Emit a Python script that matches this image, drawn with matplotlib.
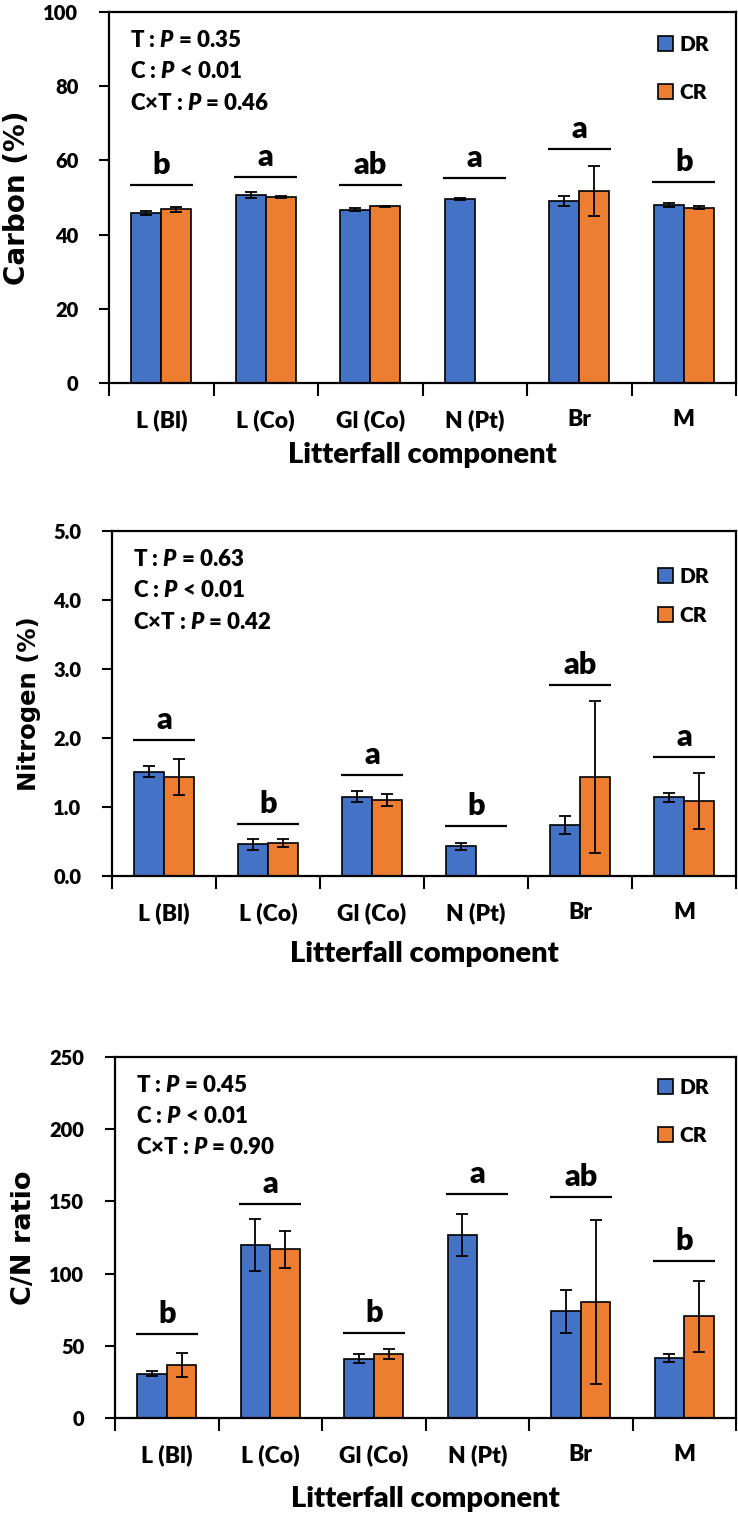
import matplotlib
matplotlib.use("Agg")
import matplotlib.pyplot as plt
import numpy as np

categories = ["L (Bl)", "L (Co)", "Gl (Co)", "N (Pt)", "Br", "M"]
series = ["DR", "CR"]

carbon_dr = [45.8, 50.6, 46.7, 49.7, 49.1, 48.0]
carbon_dr_err = [0.5, 0.8, 0.4, 0.3, 1.4, 0.6]
carbon_cr = [46.8, 50.1, 47.6, 0.0, 51.8, 47.3]
carbon_cr_err = [0.6, 0.3, 0.2, 0.0, 6.7, 0.5]
carbon_letters = ["b", "a", "ab", "a", "a", "b"]
carbon_letter_y = [53.4, 55.4, 53.3, 55.3, 63.2, 54.2]
carbon_stats = ["= 0.35", "< 0.01", "= 0.46"]

nitrogen_dr = [1.51, 0.46, 1.15, 0.43, 0.745, 1.14]
nitrogen_dr_err = [0.08, 0.08, 0.08, 0.05, 0.13, 0.07]
nitrogen_cr = [1.44, 0.48, 1.10, 0.0, 1.43, 1.09]
nitrogen_cr_err = [0.26, 0.06, 0.09, 0.0, 1.10, 0.41]
nitrogen_letters = ["a", "b", "a", "b", "ab", "a"]
nitrogen_letter_y = [1.97, 0.754, 1.46, 0.73, 2.77, 1.72]
nitrogen_stats = ["= 0.63", "< 0.01", "= 0.42"]

cn_dr = [30.8, 119.9, 41.0, 126.5, 74.0, 41.7]
cn_dr_err = [1.6, 18.0, 3.2, 14.5, 14.8, 2.9]
cn_cr = [36.9, 116.7, 44.2, 0.0, 80.3, 70.6]
cn_cr_err = [8.3, 12.5, 3.5, 0.0, 57.0, 24.6]
cn_letters = ["b", "a", "b", "a", "ab", "b"]
cn_letter_y = [58.3, 148.5, 59.2, 155.1, 153.2, 109.0]
cn_stats = ["= 0.45", "< 0.01", "= 0.90"]

FONT = "Lato"
W = "heavy"
plt.rcParams["font.family"] = [FONT, "DejaVu Sans"]
plt.rcParams["font.weight"] = W
plt.rcParams["mathtext.fontset"] = "custom"
plt.rcParams["mathtext.it"] = FONT + ":italic:heavy"
plt.rcParams["mathtext.rm"] = FONT + ":heavy"

BLUE = "#4472C4"
ORANGE = "#ED7D31"

FW, FH = 738, 1525
fig = plt.figure(figsize=(FW/100, FH/100), dpi=100)


def box(l, t, r, b):
    return [l/FW, 1 - b/FH, (r - l)/FW, (b - t)/FH]


panels = [
    dict(pos=box(109, 12, 736, 383), dr=carbon_dr, dre=carbon_dr_err,
         cr=carbon_cr, cre=carbon_cr_err, letters=carbon_letters, ly=carbon_letter_y,
         stats=carbon_stats, ylim=(0, 100), yticks=np.arange(0, 101, 20), fmt="{:.0f}",
         ylabel="Carbon (%)", ylsize=20, legsp=1.4, legtop=23, xlpad=8),
    dict(pos=box(112, 531, 736, 876), dr=nitrogen_dr, dre=nitrogen_dr_err,
         cr=nitrogen_cr, cre=nitrogen_cr_err, letters=nitrogen_letters, ly=nitrogen_letter_y,
         stats=nitrogen_stats, ylim=(0, 5), yticks=np.arange(0, 5.01, 1.0), fmt="{:.1f}",
         ylabel="Nitrogen (%)", ylsize=17.5, legsp=0.95, legtop=36, xlpad=12),
    dict(pos=box(115, 1057, 736, 1418), dr=cn_dr, dre=cn_dr_err,
         cr=cn_cr, cre=cn_cr_err, letters=cn_letters, ly=cn_letter_y,
         stats=cn_stats, ylim=(0, 250), yticks=np.arange(0, 251, 50), fmt="{:.0f}",
         ylabel="C/N ratio", ylsize=19.5, legsp=1.4, legtop=21, xlpad=14),
]

x = np.arange(len(categories))
bw = 0.286

for p in panels:
    ax = fig.add_axes(p["pos"])
    hpx = p["pos"][3] * FH
    ax.bar(x - bw/2, p["dr"], bw, color=BLUE, edgecolor="black", linewidth=1.2,
           label=series[0], zorder=2)
    ax.bar(x + bw/2, p["cr"], bw, color=ORANGE, edgecolor="black", linewidth=1.2,
           label=series[1], zorder=2)
    dre = np.array(p["dre"]); cre = np.array(p["cre"])
    m_dr = dre > 0; m_cr = cre > 0
    ax.errorbar((x - bw/2)[m_dr], np.array(p["dr"])[m_dr], yerr=dre[m_dr], fmt="none",
                ecolor="black", elinewidth=1.3, capsize=4, capthick=1.3, zorder=3)
    ax.errorbar((x + bw/2)[m_cr], np.array(p["cr"])[m_cr], yerr=cre[m_cr], fmt="none",
                ecolor="black", elinewidth=1.3, capsize=4, capthick=1.3, zorder=3)
    ymax = p["ylim"][1]
    for xi, lt, yl in zip(x, p["letters"], p["ly"]):
        ax.plot([xi - 0.3, xi + 0.3], [yl, yl], color="black", lw=1.6, solid_capstyle="butt")
        ax.text(xi, yl + ymax*6/hpx, lt, ha="center", va="bottom", fontsize=22,
                fontweight=W)
    ax.set_xlim(-0.5, len(categories) - 0.5)
    ax.set_ylim(*p["ylim"])
    ax.set_yticks(p["yticks"])
    ax.set_yticklabels([p["fmt"].format(v) for v in p["yticks"]], fontsize=14.5,
                       fontweight=W)
    ax.set_xticks(x)
    ax.set_xticklabels(categories, fontsize=16.5, fontweight=W)
    ax.set_xticks(np.arange(-0.5, len(categories)), minor=True)
    ax.tick_params(axis="x", which="major", length=0, pad=19)
    ax.tick_params(axis="x", which="minor", length=9, width=1.5, direction="out")
    ax.tick_params(axis="y", length=7, width=1.5, direction="out", pad=15)
    for s in ax.spines.values():
        s.set_linewidth(1.6)
    ax.set_xlabel("Litterfall component", fontsize=21, fontweight=W, labelpad=p["xlpad"])
    ax.set_ylabel(p["ylabel"], fontsize=p["ylsize"], fontweight="bold",
                  family=["DejaVu Sans"], labelpad=9)
    labels = ["T : $P$ ", "C : $P$ ", "C\u00d7T : $P$ "]
    for i, (lab, st) in enumerate(zip(labels, p["stats"])):
        ax.text(21/ (p["pos"][2]*FW), 1 - (28 + i*31.5)/hpx, lab + st,
                transform=ax.transAxes, fontsize=16, fontweight=W,
                ha="left", va="center")
    ax.legend(loc="upper left",
              bbox_to_anchor=(1 - 78/(p["pos"][2]*FW), 1 - p["legtop"]/hpx),
              frameon=False, borderpad=0, borderaxespad=0, handlelength=0.72,
              handleheight=0.72, handletextpad=0.3, labelspacing=p["legsp"],
              prop={"weight": W, "size": 15})

fig.savefig("out.png", dpi=100)
